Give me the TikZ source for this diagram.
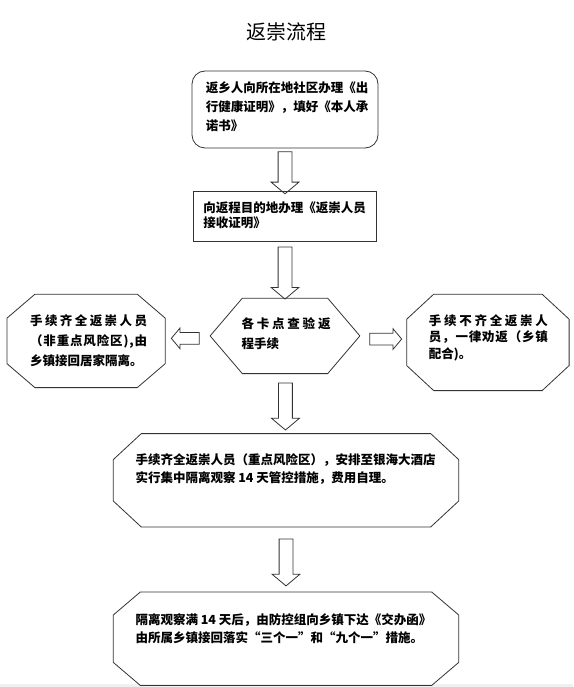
\documentclass[tikz,border=0pt]{standalone}
\usepackage{fontspec}
\setmainfont{Noto Sans CJK SC}
\usetikzlibrary{positioning,shapes.arrows}

% outline with cut corners round a named node
\newcommand{\octagon}[3]{%
  \draw[box] ([xshift=#2]#1.north west) -- ([xshift=-#2]#1.north east) -- ([yshift=-#3]#1.north east) -- ([yshift=#3]#1.south east) -- ([xshift=-#2]#1.south east) -- ([xshift=#2]#1.south west) -- ([yshift=#3]#1.south west) -- ([yshift=-#3]#1.north west) -- cycle;}
% justified line: characters spread over a given width
\newcommand{\spread}[2]{\makebox[#1][s]{\spreadfirst#2\relax}}
\def\spreadfirst#1{#1\spreadnext}
\def\spreadnext#1{\ifx#1\relax\else\hfill#1\expandafter\spreadnext\fi}

\begin{document}
\begin{tikzpicture}[x=1pt,y=1pt,
						box/.style={draw=black!80,line width=.8pt},
						plain/.style 2 args={minimum width=#1,minimum height=#2,inner sep=0pt},
						frame/.style 2 args={plain={#1}{#2},box},
						txt/.style={font=\bfseries\fontsize{12.5pt}{#1}\selectfont,align=left,inner sep=0pt,anchor=north west},
						arrowv/.style={single arrow,box,rotate=-90,inner sep=6.5pt,single arrow head extend=7pt,single arrow tip angle=100,minimum height=#1},
						arrowh/.style={single arrow,box,inner sep=5.5pt,single arrow head extend=4.5pt,single arrow tip angle=100,minimum height=#1}]
		\useasboundingbox (0,0) rectangle (573,-687);
		\fill[black!6] (0,-684) rectangle (573,-687);

		\node[font=\fontsize{20pt}{24pt}\selectfont]							(title)		at (286,-32) {返崇流程};
		\node[frame={186pt}{77pt},rounded corners=13pt,
			label={[txt=19pt,xshift=14pt,yshift=-11pt]north west:{返乡人向所在地社区办理《出\\行健康证明》，填好《本人承\\诺书》}}]	(apply)		at (285,-109.5) {};
		\node[frame={183pt}{50pt},below=43pt of apply,
			label={[txt=15.5pt,xshift=10pt,yshift=-10pt]north west:{向返程目的地办理《返崇人员\\接收证明》}}]	(permit)	{};
		\node[plain={149pt}{75pt},below=56pt of permit,
			label={[txt=20pt,xshift=31pt,yshift=-19pt]north west:{\spread{89pt}{各卡点查验返}\\程手续}}]	(check)		{};
		\node[plain={158pt}{93pt},left=45pt of check,yshift=-5pt,
			label={[txt=20pt,xshift=23pt,yshift=-20pt]north west:{\spread{117pt}{手续齐全返崇人员}\\\spread{117pt}{（非重点风险区),由}\\乡镇接回居家隔离。}}]	(home)		{};
		\node[plain={162pt}{96pt},right=47pt of check,yshift=-6.5pt,
			label={[txt=16.5pt,xshift=22pt,yshift=-20pt]north west:{\spread{119pt}{手续不齐全返崇人}\\\spread{119pt}{员，一律劝返（乡镇}\\配合)。}}]	(refuse)	{};
		\node[plain={345pt}{93pt},below=60pt of check,xshift=1pt,
			label={[txt=18pt,xshift=22pt,yshift=-20pt]north west:{手续齐全返崇人员（重点风险区），安排至银海大酒店\\实行集中隔离观察 14 天管控措施，费用自理。}}]	(hotel)		{};
		\node[plain={345pt}{93pt},below=65pt of hotel,
			label={[txt=18pt,xshift=22pt,yshift=-21pt]north west:{隔离观察满 14 天后，由防控组向乡镇下达《交办函》\\由所属乡镇接回落实“三个一”和“九个一”措施。}}]	(handover)	{};

		\octagon{check}{32pt}{37.5pt}
		\octagon{home}{28pt}{24pt}
		\octagon{refuse}{27pt}{25pt}
		\octagon{hotel}{28pt}{26pt}
		\octagon{handover}{27pt}{23pt}

		\path (apply) -- node[arrowv=42pt] (a1) {} (permit);
		\path (permit) -- node[arrowv=52pt] (a2) {} (check);
		\path (check) -- node[arrowv=47pt] (a3) {} (hotel);
		\path (hotel) -- node[arrowv=47pt] (a4) {} (handover);
		\path (check) -- node[arrowh=28pt,rotate=180] (a5) {} (home);
		\path (check) -- node[arrowh=32pt] (a6) {} (refuse);
	\end{tikzpicture}
\end{document}
